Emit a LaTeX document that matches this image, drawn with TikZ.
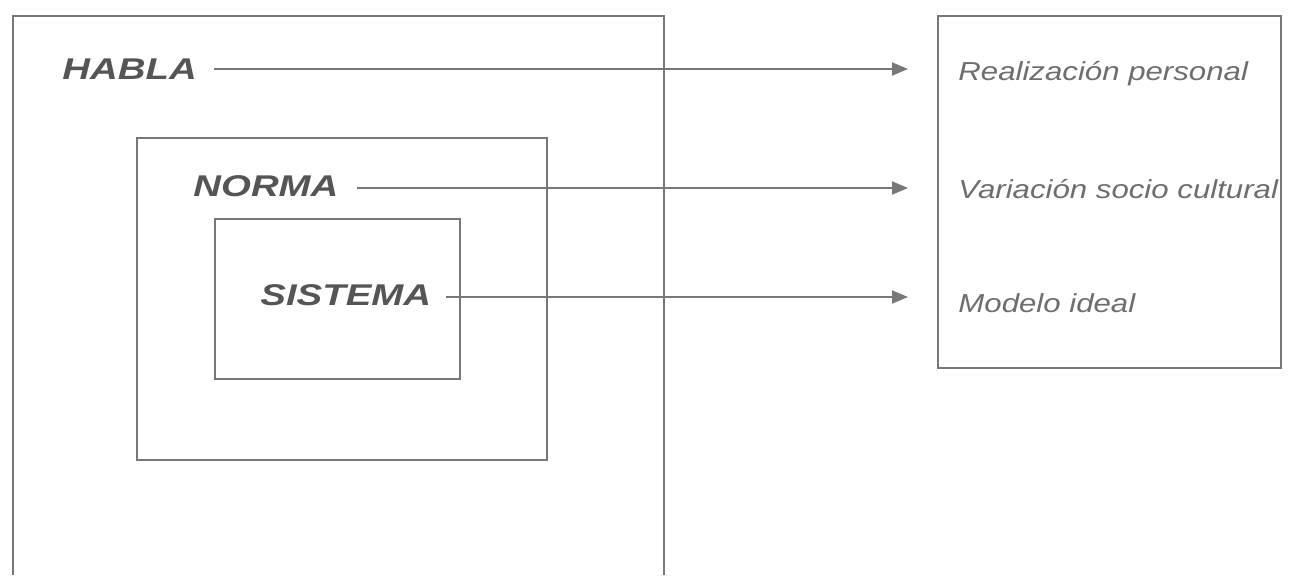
\documentclass[tikz,border=0pt]{standalone}
\usepackage{fontspec}
\setmainfont{Liberation Sans}
\usetikzlibrary{arrows.meta}
\definecolor{linegray}{RGB}{120,120,120}
\definecolor{labelgray}{RGB}{85,85,85}
\definecolor{textgray}{RGB}{110,110,110}
\tikzset{
  box/.style={draw=linegray, line width=1.1pt},
  lbl/.style={anchor=west, inner sep=0pt, text=labelgray,
    font=\fontsize{15pt}{18pt}\selectfont\bfseries\itshape},
  rtxt/.style={anchor=base west, inner sep=0pt, text=textgray,
    font=\fontsize{13pt}{15pt}\selectfont\itshape},
  arr/.style={draw=linegray, line width=1pt,
    -{Triangle[length=8pt, width=6.5pt]}, fill=linegray},
}
\newcommand{\hs}[1]{\scalebox{1.28}[1]{#1}}
\newcommand{\hr}[1]{\scalebox{1.2}[1]{#1}}
\begin{document}
\begin{tikzpicture}[x=0.5pt, y=-0.5pt]
\useasboundingbox (0,0) rectangle (1289,575);
% outer box (open at the bottom)
\draw[box] (13,575) -- (13,16) -- (664,16) -- (664,575);
% middle and inner boxes
\draw[box] (137,138) rectangle (547,460);
\draw[box] (215,219) rectangle (460,379);
% right box
\draw[box] (938,16) rectangle (1281,368);
% labels
\node[lbl] (habla) at (62,69) {\hs{HABLA}};
\node[lbl] (norma) at (193,186) {\hs{NORMA}};
\node[lbl] (sistema) at (260,295) {\hs{SISTEMA}};
% right texts
\node[rtxt] (real) at (958,80) {\hr{Realización personal}};
\node[rtxt] (vari) at (958,198) {\hr{Variación socio cultural}};
\node[rtxt] (mode) at (958,312) {\hr{Modelo ideal}};
% arrow tips
\coordinate (t1) at (908,69);
\coordinate (t2) at (908,188);
\coordinate (t3) at (908,297);
\draw[arr, shorten <=8.5pt] (habla.east |- t1) -- (t1);
\draw[arr, shorten <=9pt] (norma.east |- t2) -- (t2);
\draw[arr, shorten <=7.5pt] (sistema.east |- t3) -- (t3);
\end{tikzpicture}
\end{document}
